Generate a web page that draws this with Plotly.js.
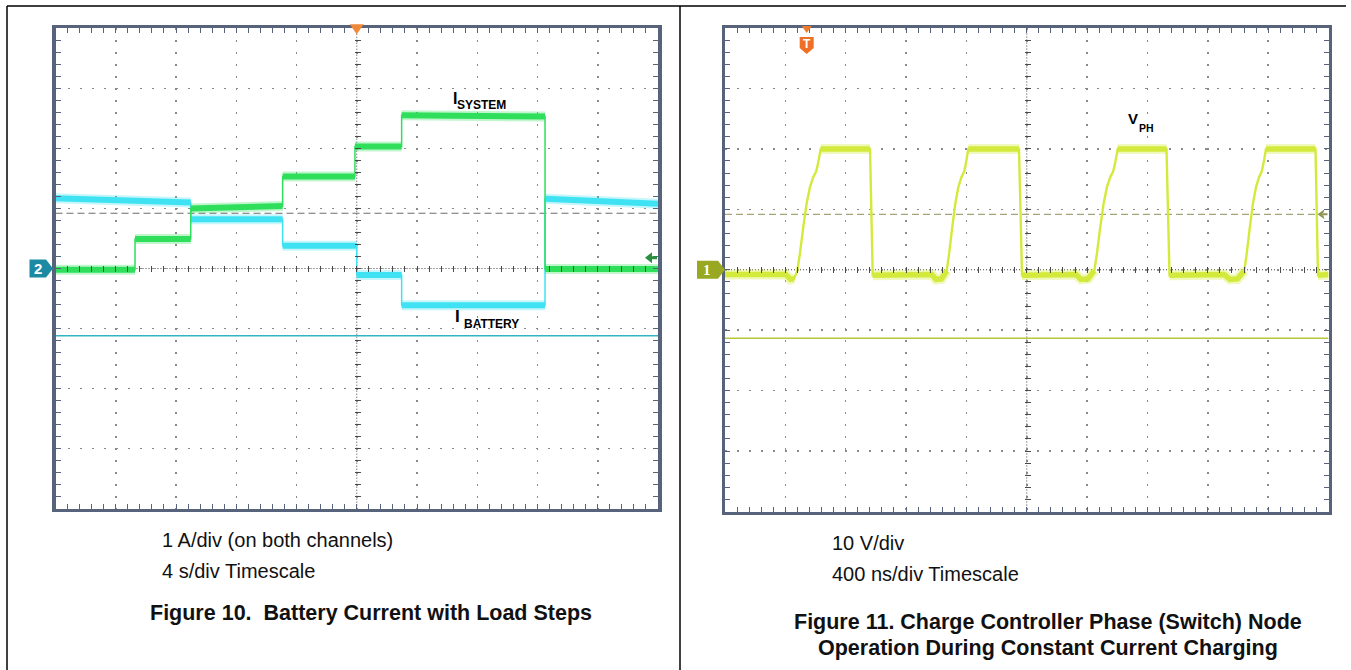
<!DOCTYPE html>
<html>
<head>
<meta charset="utf-8">
<script src="https://cdn.plot.ly/plotly-3.0.1.min.js"></script>
<style>
html,body{margin:0;padding:0;background:#fff;}
#chart{width:1351px;height:670px;}
</style>
</head>
<body>
<div id="chart"></div>
<script>
// ===== Figure 10 data: time in s (4 s/div), current in A (1 A/div) =====
const batTime    = [-20, -11.02, -11.02, -4.92, -4.92, 0, 0, 2.98, 2.98, 12.5, 12.5, 20];
const batCurrent = [1.17, 1.10, 0.82, 0.82, 0.38, 0.38, -0.11, -0.11, -0.61, -0.61, 1.16, 1.08];
const sysTime    = [-20, -14.72, -14.72, -11.02, -11.02, -4.92, -4.92, -0.12, -0.12, 2.98, 2.98, 12.5, 12.5, 20];
const sysCurrent = [-0.02, -0.02, 0.49, 0.49, 1.00, 1.04, 1.53, 1.53, 2.03, 2.03, 2.55, 2.53, -0.01, -0.01];
const fig10Cursor = 0.92;     // A, dashed cursor
const fig10Ref = -1.12;       // A, solid reference line
const fig10ArrowLevel = 0.18; // A, right-edge channel arrow

// ===== Figure 11 data: time in ns (400 ns/div), V_PH in V (10 V/div) =====
const phTime = [
  -2000, -1597.7, -1565.9, -1542.7,
  -1520.8, -1502.9, -1481.0, -1458.5, -1436.6, -1414.7, -1396.9, -1388.2, -1379.0, -1365.7,
  -1038.9, -1021.0,
  -630.0, -601.5, -565.0,
  -530.6, -514.0, -493.5, -472.9, -453.0, -432.5, -415.9, -408.0, -399.3, -387.4,
  -51.4, -31.5,
  326.4, 359.6, 406.0,
  447.7, 465.6, 487.5, 510.0, 531.9, 553.8, 571.7, 580.3, 589.6, 602.8,
  926.3, 946.2,
  1307.4, 1347.1, 1396.9,
  1441.9, 1458.5, 1479.0, 1499.6, 1520.1, 1540.0, 1556.6, 1564.5, 1573.2, 1585.7,
  1913.8, 1930.4, 2000
];
const phVolt = [
  -0.8, -0.8, -1.6, -1.5,
  -0.15, 2.78, 7.09, 11.06, 13.71, 15.36, 16.19, 17.02, 18.18, 20.0,
  20.0, -0.9,
  -0.8, -1.6, -1.5,
  -0.15, 2.78, 7.09, 11.06, 13.71, 15.36, 16.19, 17.02, 18.18, 20.0,
  20.0, -0.9,
  -0.8, -1.6, -1.5,
  -0.15, 2.78, 7.09, 11.06, 13.71, 15.36, 16.19, 17.02, 18.18, 20.0,
  20.0, -0.9,
  -0.8, -1.6, -1.5,
  -0.15, 2.78, 7.09, 11.06, 13.71, 15.36, 16.19, 17.02, 18.18, 20.0,
  20.0, -0.9, -0.8
];
const fig11Cursor = 9.17;     // V, trigger level (dashed)
const fig11Ref = -11.34;      // V, solid reference line
const fig11Trigger = -1458.5; // ns, trigger position

// ===== layout constants =====
const W = 1351, H = 670;
const LB = {x0: 55.5, x1: 658, y0: 28.3, y1: 508.7};
const RB = {x0: 725, x1: 1328.5, y0: 28, y1: 511.5};
const LXR = [-20, 20], LYR = [-4, 4];
const RXR = [-2000, 2000], RYR = [-40, 40];
const px = v => v / W;
const py = v => 1 - v / H;
const FONT = 'Liberation Sans, Arial, Helvetica, sans-serif';
const CYAN = '#3fe2f3', GREEN = '#2fdf5c', VPH = '#d3ea3c';
const FRAME = '#56637a';

function flats(xs, ys, maxSlope) {
  const ox = [], oy = [];
  let open = false;
  for (let i = 0; i < xs.length - 1; i++) {
    const dx = xs[i + 1] - xs[i], dy = ys[i + 1] - ys[i];
    if (dx > 0 && Math.abs(dy / dx) <= maxSlope) {
      if (!open) { ox.push(xs[i]); oy.push(ys[i]); }
      ox.push(xs[i + 1]); oy.push(ys[i + 1]);
      open = true;
    } else if (open) {
      ox.push(null); oy.push(null); open = false;
    }
  }
  return {x: ox, y: oy};
}

function lineTrace(x, y, xa, ya, color, width, name) {
  return {x, y, xaxis: xa, yaxis: ya, mode: 'lines', name, showlegend: false,
          hoverinfo: 'skip', connectgaps: false, line: {color, width, simplify: false}};
}

const batF = flats(batTime, batCurrent, 0.05);
const sysF = flats(sysTime, sysCurrent, 0.05);
const phF = flats(phTime, phVolt, 0.04);

const traces = [
  lineTrace(batF.x, batF.y, 'x', 'y', 'rgba(63,226,243,0.3)', 10, 'I_BATTERY halo'),
  lineTrace(batTime, batCurrent, 'x', 'y', CYAN, 1.5, 'I_BATTERY'),
  lineTrace(batF.x, batF.y, 'x', 'y', CYAN, 6, 'I_BATTERY band'),
  lineTrace(sysF.x, sysF.y, 'x', 'y', 'rgba(47,223,92,0.3)', 10, 'I_SYSTEM halo'),
  lineTrace(sysTime, sysCurrent, 'x', 'y', GREEN, 1.5, 'I_SYSTEM'),
  lineTrace(sysF.x, sysF.y, 'x', 'y', GREEN, 6, 'I_SYSTEM band'),
  lineTrace(phF.x, phF.y, 'x2', 'y2', 'rgba(211,234,60,0.35)', 10, 'V_PH halo'),
  lineTrace(phTime, phVolt, 'x2', 'y2', VPH, 2.4, 'V_PH'),
  lineTrace(phF.x, phF.y, 'x2', 'y2', VPH, 5.5, 'V_PH band'),
  {x: [], y: [], xaxis: 'x3', yaxis: 'y', mode: 'lines', showlegend: false, hoverinfo: 'skip'},
  {x: [], y: [], xaxis: 'x', yaxis: 'y3', mode: 'lines', showlegend: false, hoverinfo: 'skip'},
  {x: [], y: [], xaxis: 'x4', yaxis: 'y2', mode: 'lines', showlegend: false, hoverinfo: 'skip'},
  {x: [], y: [], xaxis: 'x2', yaxis: 'y4', mode: 'lines', showlegend: false, hoverinfo: 'skip'}
];

function frameAxis(domain, range, dtick, anchor, dotPx) {
  return {
    domain, range, dtick, tick0: 0, anchor, fixedrange: true,
    showticklabels: false, zeroline: false,
    showgrid: true, gridcolor: '#8a8a8a', gridwidth: 1.5, griddash: '2px,' + (dotPx - 2) + 'px',
    showline: true, linecolor: FRAME, linewidth: 3.5, mirror: 'allticks',
    ticks: 'inside', ticklen: 5, tickwidth: 1, tickcolor: FRAME,
    minor: {dtick: dtick / 5, tick0: 0, ticks: 'inside', ticklen: 3, tickwidth: 1, tickcolor: FRAME, showgrid: false}
  };
}
function centerAxis(overlay, range, dtick, side, pos) {
  return {
    overlaying: overlay, anchor: 'free', position: pos, side, range, dtick, tick0: 0,
    fixedrange: true, showticklabels: false, showgrid: false, zeroline: false, showline: false,
    ticks: 'inside', ticklen: 6, tickwidth: 1, tickcolor: '#4a4a4a',
    minor: {dtick: dtick / 5, tick0: 0, ticks: 'inside', ticklen: 6, tickwidth: 1, tickcolor: '#4a4a4a', showgrid: false}
  };
}

const lcx = (LB.x0 + LB.x1) / 2, lcy = (LB.y0 + LB.y1) / 2;
const rcx = (RB.x0 + RB.x1) / 2, rcy = (RB.y0 + RB.y1) / 2;

const fracL = v => (v - LYR[0]) / (LYR[1] - LYR[0]);
const fracR = v => (v - RYR[0]) / (RYR[1] - RYR[0]);
const fracRX = v => (v - RXR[0]) / (RXR[1] - RXR[0]);

function marker(xa, ya, xan, yan, path, color) {
  return {type: 'path', xref: xa + ' domain', yref: ya + ' domain', xsizemode: 'pixel', ysizemode: 'pixel',
          xanchor: xan, yanchor: yan, path, fillcolor: color, line: {width: 0}, layer: 'above'};
}

const shapes = [
  // panel borders
  {type: 'line', xref: 'paper', yref: 'paper', x0: px(7), x1: px(1346), y0: py(6), y1: py(6), line: {color: '#000', width: 1.5}},
  {type: 'line', xref: 'paper', yref: 'paper', x0: px(7), x1: px(7), y0: py(6), y1: 0, line: {color: '#000', width: 1.5}},
  {type: 'line', xref: 'paper', yref: 'paper', x0: px(680), x1: px(680), y0: py(6), y1: 0, line: {color: '#000', width: 1.5}},
  // Fig 10 center cross (dense dots), cursor and reference line
  {type: 'line', xref: 'x', yref: 'y', x0: 0, x1: 0, y0: LYR[0], y1: LYR[1], line: {color: '#444', width: 1, dash: '1px,2px'}, layer: 'below'},
  {type: 'line', xref: 'x', yref: 'y', x0: LXR[0], x1: LXR[1], y0: 0, y1: 0, line: {color: '#444', width: 1, dash: '1px,2px'}, layer: 'below'},
  {type: 'line', xref: 'x', yref: 'y', x0: LXR[0], x1: LXR[1], y0: fig10Cursor, y1: fig10Cursor, line: {color: '#6d6d6d', width: 1.2, dash: '7px,4px'}, layer: 'below'},
  {type: 'line', xref: 'x', yref: 'y', x0: LXR[0], x1: LXR[1], y0: fig10Ref, y1: fig10Ref, line: {color: '#32b4c6', width: 1.6}, layer: 'below'},
  // Fig 11 center cross, trigger level and reference line
  {type: 'line', xref: 'x2', yref: 'y2', x0: 0, x1: 0, y0: RYR[0], y1: RYR[1], line: {color: '#444', width: 1, dash: '1px,2px'}, layer: 'below'},
  {type: 'line', xref: 'x2', yref: 'y2', x0: RXR[0], x1: RXR[1], y0: 0, y1: 0, line: {color: '#444', width: 1, dash: '1px,2px'}, layer: 'below'},
  {type: 'line', xref: 'x2', yref: 'y2', x0: RXR[0], x1: RXR[1], y0: fig11Cursor, y1: fig11Cursor, line: {color: '#a3a47a', width: 1.2, dash: '7px,4px'}, layer: 'below'},
  {type: 'line', xref: 'x2', yref: 'y2', x0: RXR[0], x1: RXR[1], y0: fig11Ref, y1: fig11Ref, line: {color: '#b7c63c', width: 1.6}, layer: 'below'},
  // Fig 10 markers
  marker('x', 'y', 0, fracL(0), 'M-26,9 L-9.5,9 L-2.5,0 L-9.5,-9 L-26,-9 Z', '#1d8aa3'),
  marker('x', 'y', 0.5, 1, 'M-7,4 L7,4 L0,-6 Z', '#f0893a'),
  marker('x', 'y', 1, fracL(fig10ArrowLevel), 'M-13,0 L-6,5.5 L-6,1.5 L-1,1.5 L-1,-1.5 L-6,-1.5 L-6,-5.5 Z', '#2a8f3e'),
  // Fig 11 markers
  marker('x2', 'y2', 0, fracR(0), 'M-28,9 L-7,9 L0,0 L-7,-9 L-28,-9 Z', '#98a823'),
  marker('x2', 'y2', fracRX(fig11Trigger), 1, 'M-5,2 L5,2 L0,-5 Z', '#ef7a2c'),
  marker('x2', 'y2', fracRX(fig11Trigger), 1, 'M-7,-9 L7,-9 L7,-20 L0,-26 L-7,-20 Z', '#ef6f26'),
  marker('x2', 'y2', 1, fracR(fig11Cursor), 'M-11,0 L-4,-5 L-5.5,0 L-4,5 Z M-6,-1 L-1,-1 L-1,1 L-6,1 Z', '#8f9456')
];

const txt = (text, x, y, size, opts) => Object.assign({
  text, x, y, xref: 'paper', yref: 'paper', showarrow: false, xanchor: 'left', yanchor: 'middle',
  borderpad: 0, font: {family: FONT, size, color: '#111'}
}, opts || {});
const bold = (size, color) => ({family: FONT, size, color: color || '#000', weight: 'bold'});

const trigX = RB.x0 + fracRX(fig11Trigger) * (RB.x1 - RB.x0);

const annotations = [
  // trace labels (main letter + subscript)
  txt('I', px(452), py(98.2), 16, {font: bold(16)}),
  txt('SYSTEM', px(455.5), py(105), 12, {font: bold(12)}),
  txt('I', px(454), py(316), 17, {font: bold(17)}),
  txt('BATTERY', px(462.5), py(323.8), 12, {font: bold(12)}),
  txt('V', px(1127), py(118.7), 15, {font: bold(15)}),
  txt('PH', px(1137.5), py(127.5), 10.5, {font: bold(10.5)}),
  // channel / trigger marker glyphs
  txt('2', px(LB.x0 - 18), py(lcy), 15, {xanchor: 'center', font: bold(15, '#fff')}),
  txt('1', px(RB.x0 - 17.5), py(rcy), 15, {xanchor: 'center', font: {family: 'Liberation Serif, serif', size: 15, color: '#fff', weight: 'bold'}}),
  txt('T', px(trigX), py(RB.y0 + 16), 12, {xanchor: 'center', font: bold(12, '#fff')}),
  // captions
  txt('1 A/div (on both channels)', px(161), py(540), 20),
  txt('4 s/div Timescale', px(161), py(571), 20),
  txt('Figure 10.\u00a0 Battery Current with Load Steps', px(371), py(613), 21.5, {xanchor: 'center', font: bold(21.5, '#111')}),
  txt('10 V/div', px(831), py(543), 20),
  txt('400 ns/div Timescale', px(831), py(574), 20),
  txt('Figure 11. Charge Controller Phase (Switch) Node', px(1047.5), py(621.5), 21.5, {xanchor: 'center', font: bold(21.5, '#111')}),
  txt('Operation During Constant Current Charging', px(1047.5), py(647.5), 21.5, {xanchor: 'center', font: bold(21.5, '#111')})
];

const layout = {
  width: W, height: H, margin: {l: 0, r: 0, t: 0, b: 0, pad: 0},
  paper_bgcolor: '#fff', plot_bgcolor: '#fff', showlegend: false, hovermode: false,
  xaxis: frameAxis([px(LB.x0), px(LB.x1)], LXR, 4, 'y', 12),
  yaxis: frameAxis([py(LB.y1), py(LB.y0)], LYR, 1, 'x', 12),
  xaxis2: frameAxis([px(RB.x0), px(RB.x1)], RXR, 400, 'y2', 12),
  yaxis2: frameAxis([py(RB.y1), py(RB.y0)], RYR, 10, 'x2', 12),
  xaxis3: centerAxis('x', LXR, 4, 'bottom', py(lcy + 3)),
  yaxis3: centerAxis('y', LYR, 1, 'left', px(lcx - 3)),
  xaxis4: centerAxis('x2', RXR, 400, 'bottom', py(rcy + 3)),
  yaxis4: centerAxis('y2', RYR, 10, 'left', px(rcx - 3)),
  shapes, annotations
};

Plotly.newPlot('chart', traces, layout, {displayModeBar: false, staticPlot: true});
</script>
</body>
</html>
